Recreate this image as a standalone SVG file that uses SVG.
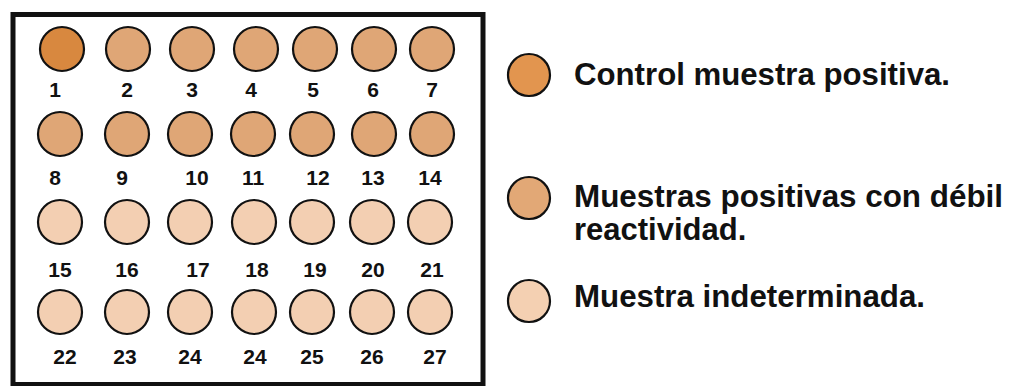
<svg xmlns="http://www.w3.org/2000/svg" width="1009" height="386" viewBox="0 0 1009 386">
<style>
.w{stroke:#111;stroke-width:2.2}
.c1{fill:#d8883f}
.c2{fill:#dfa676}
.c3{fill:#f3cfb2}
.n{font-family:"Liberation Sans",Arial,sans-serif;font-weight:bold;font-size:21px;fill:#111;text-anchor:middle}
.l{font-family:"Liberation Sans",Arial,sans-serif;font-weight:bold;font-size:31px;fill:#111}
</style>
<rect width="1009" height="386" fill="#fff"/>
<rect id="frame" x="13" y="14.5" width="470" height="370" fill="#fff" stroke="#111" stroke-width="5"/>
<g id="wells">
<g id="w1"><circle class="w c1" cx="62" cy="49" r="22"/><text class="n" x="55" y="97">1</text></g>
<g id="w2"><circle class="w c2" cx="128" cy="49" r="22"/><text class="n" x="127" y="97">2</text></g>
<g id="w3"><circle class="w c2" cx="192" cy="49" r="22"/><text class="n" x="192" y="97">3</text></g>
<g id="w4"><circle class="w c2" cx="256" cy="49" r="22"/><text class="n" x="251" y="97">4</text></g>
<g id="w5"><circle class="w c2" cx="315" cy="49" r="22"/><text class="n" x="313" y="97">5</text></g>
<g id="w6"><circle class="w c2" cx="374" cy="49" r="22"/><text class="n" x="373" y="97">6</text></g>
<g id="w7"><circle class="w c2" cx="432" cy="49" r="22"/><text class="n" x="432" y="97">7</text></g>
<g id="w8"><circle class="w c2" cx="60" cy="134" r="22"/><text class="n" x="55" y="185">8</text></g>
<g id="w9"><circle class="w c2" cx="127" cy="134" r="22"/><text class="n" x="122" y="185">9</text></g>
<g id="w10"><circle class="w c2" cx="190" cy="134" r="22"/><text class="n" x="197" y="185">10</text></g>
<g id="w11"><circle class="w c2" cx="253" cy="134" r="22"/><text class="n" x="253" y="185">11</text></g>
<g id="w12"><circle class="w c2" cx="312" cy="134" r="22"/><text class="n" x="318" y="185">12</text></g>
<g id="w13"><circle class="w c2" cx="374" cy="134" r="22"/><text class="n" x="373" y="185">13</text></g>
<g id="w14"><circle class="w c2" cx="432" cy="134" r="22"/><text class="n" x="430" y="185">14</text></g>
<g id="w15"><circle class="w c3" cx="60" cy="222" r="22"/><text class="n" x="60" y="277">15</text></g>
<g id="w16"><circle class="w c3" cx="127" cy="222" r="22"/><text class="n" x="127" y="277">16</text></g>
<g id="w17"><circle class="w c3" cx="190" cy="222" r="22"/><text class="n" x="198" y="277">17</text></g>
<g id="w18"><circle class="w c3" cx="254" cy="222" r="22"/><text class="n" x="257" y="277">18</text></g>
<g id="w19"><circle class="w c3" cx="312" cy="222" r="22"/><text class="n" x="315" y="277">19</text></g>
<g id="w20"><circle class="w c3" cx="372" cy="222" r="22"/><text class="n" x="373" y="277">20</text></g>
<g id="w21"><circle class="w c3" cx="430" cy="222" r="22"/><text class="n" x="432" y="277">21</text></g>
<g id="w22"><circle class="w c3" cx="60" cy="312" r="22"/><text class="n" x="65" y="364">22</text></g>
<g id="w23"><circle class="w c3" cx="127" cy="312" r="22"/><text class="n" x="125" y="364">23</text></g>
<g id="w24a"><circle class="w c3" cx="190" cy="312" r="22"/><text class="n" x="190" y="364">24</text></g>
<g id="w24b"><circle class="w c3" cx="254" cy="312" r="22"/><text class="n" x="255" y="364">24</text></g>
<g id="w25"><circle class="w c3" cx="312" cy="312" r="22"/><text class="n" x="312" y="364">25</text></g>
<g id="w26"><circle class="w c3" cx="372" cy="312" r="22"/><text class="n" x="372" y="364">26</text></g>
<g id="w27"><circle class="w c3" cx="430" cy="312" r="22"/><text class="n" x="435" y="364">27</text></g>
</g>
<g id="legend">
<g id="leg1"><circle class="w" fill="#e2954f" cx="529" cy="75" r="21"/><text class="l" x="574" y="85" textLength="376" lengthAdjust="spacingAndGlyphs">Control muestra positiva.</text></g>
<g id="leg2"><circle class="w" fill="#e2a876" cx="529" cy="198" r="21"/><text class="l" x="574" y="207" textLength="429" lengthAdjust="spacingAndGlyphs">Muestras positivas con débil</text><text class="l" x="574" y="240">reactividad.</text></g>
<g id="leg3"><circle class="w" fill="#f4d0b2" cx="529" cy="301" r="21"/><text class="l" x="574" y="307" textLength="351" lengthAdjust="spacingAndGlyphs">Muestra indeterminada.</text></g>
</g>
<g id="connectors"/>
</svg>
